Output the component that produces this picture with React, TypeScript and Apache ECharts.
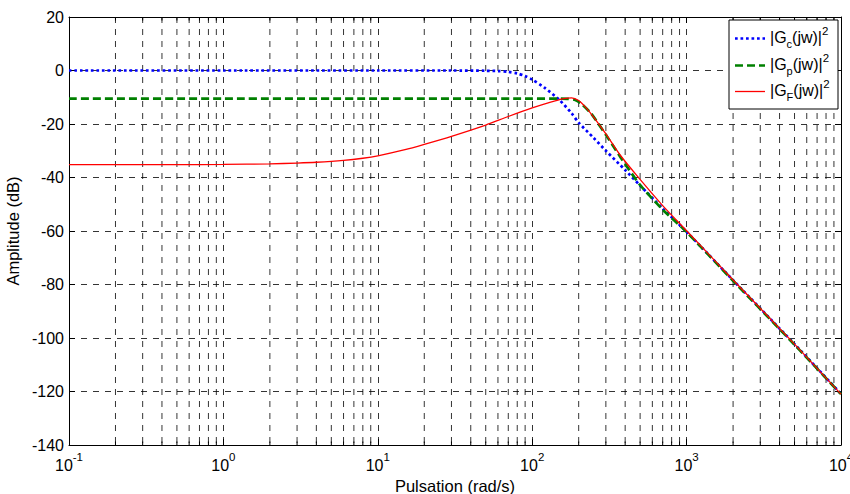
import React, { useEffect, useRef } from 'react';
import * as echarts from 'echarts';

const FONT = "'Liberation Sans', Arial, Helvetica, sans-serif";

// axis ranges
const X_MIN = 0.1;
const X_MAX = 10000;
const Y_MIN = -140;
const Y_MAX = 20;
const Y_STEP = 20;

// minor (2..9) positions of the logarithmic x axis
const X_MINOR = [
  0.2, 0.3, 0.4, 0.5, 0.6, 0.7, 0.8, 0.9,
  2, 3, 4, 5, 6, 7, 8, 9,
  20, 30, 40, 50, 60, 70, 80, 90,
  200, 300, 400, 500, 600, 700, 800, 900,
  2000, 3000, 4000, 5000, 6000, 7000, 8000, 9000,
];

// |Gc(jw)|^2  (blue, dotted)
const W_C = [0.1, 1, 10, 30, 50, 60, 70, 80, 90, 100, 120, 150, 180, 200, 250, 300, 400, 500, 700, 1000, 2000, 5000, 10000];
const DB_C = [0, 0, 0, 0, -0.1, -0.2, -0.5, -1.1, -2.1, -3.4, -6.4, -11, -16, -19.5, -25.2, -30, -37.2, -43, -51.6, -60.3, -78.4, -102.3, -120.9];

// |Gp(jw)|^2  (green, dashed)
const W_P = [0.1, 1, 10, 100, 130, 150, 170, 190, 210, 240, 275, 300, 350, 400, 500, 700, 1000, 2000, 5000, 10000];
const DB_P = [-10.5, -10.5, -10.5, -10.5, -10.5, -10.5, -10.6, -11.0, -12.6, -16.0, -20.8, -24, -30, -35, -42.8, -52, -60.4, -78.6, -102.5, -121];

// |GF(jw)|^2  (red, solid)
const W_F = [0.1, 0.5, 1, 2, 3, 4, 6, 8, 10, 15, 20, 30, 50, 70, 100, 130, 160, 180, 200, 220, 250, 300, 370, 475, 700, 1000, 2000, 5000, 10000];
const DB_F = [-35.2, -35.2, -35.1, -34.9, -34.6, -34.3, -33.6, -32.8, -31.9, -29.6, -27.6, -24.6, -20.4, -17.2, -14, -11.9, -10.5, -10.2, -11.2, -13.5, -17.4, -23.7, -31.5, -39.2, -50.5, -59.9, -78.3, -102.3, -121];

const toPairs = (xs: number[], ys: number[]) => xs.map((x, i) => [x, ys[i]]);

export default function App() {
  const ref = useRef<HTMLDivElement>(null);

  useEffect(() => {
    if (!ref.current) return;
    const chart = echarts.init(ref.current, undefined, { renderer: 'svg' });

    const gridColor = '#000';
    const gridDash = [6, 6];
    const axisLine = { show: true, onZero: false, lineStyle: { color: '#000', width: 1 } };
    const tick = { show: true, inside: true, length: 6, lineStyle: { color: '#000', width: 1 } };

    const legendText = (sub: string) => `|G{s|${sub}}(jw)|{p|2}`;
    const legendTextEl = (sub: string, y: number) => ({
      type: 'text',
      x: 770,
      y,
      z: 102,
      style: {
        text: legendText(sub),
        fontFamily: FONT,
        fontSize: 16,
        lineHeight: 24,
        fill: '#000',
        verticalAlign: 'middle',
        align: 'left',
        rich: {
          s: { fontSize: 11, lineHeight: 11, verticalAlign: 'bottom', fontFamily: FONT, fill: '#000' },
          p: { fontSize: 11.5, lineHeight: 14, verticalAlign: 'top', fontFamily: FONT, fill: '#000' },
        },
      },
    });

    const option: any = {
      animation: false,
      backgroundColor: '#fff',
      grid: { left: 69, right: 9, top: 17, bottom: 49, containLabel: false, outerBoundsMode: 'none' },
      xAxis: [
        {
          type: 'log',
          logBase: 10,
          min: X_MIN,
          max: X_MAX,
          position: 'bottom',
          name: 'Pulsation (rad/s)',
          nameLocation: 'middle',
          nameGap: 28,
          nameTextStyle: { fontFamily: FONT, fontSize: 16.5, color: '#000' },
          axisLine,
          axisTick: tick,
          axisLabel: {
            show: true,
            margin: 6,
            showMinLabel: true,
            showMaxLabel: true,
            hideOverlap: false,
            color: '#000',
            formatter: (v: number) => `{b|10}{s|${Math.round(Math.log10(v))}}`,
            rich: {
              b: { fontFamily: FONT, fontSize: 16, lineHeight: 28, color: '#000' },
              s: { fontFamily: FONT, fontSize: 11.5, lineHeight: 12, verticalAlign: 'top', color: '#000' },
            },
          },
          splitLine: { show: true, lineStyle: { color: gridColor, width: 0.8, type: gridDash } },
          minorTick: { show: false },
        },
        {
          type: 'log',
          logBase: 10,
          min: X_MIN,
          max: X_MAX,
          position: 'top',
          axisLine,
          axisTick: tick,
          axisLabel: { show: false },
          splitLine: { show: false },
        },
      ],
      yAxis: [
        {
          type: 'value',
          min: Y_MIN,
          max: Y_MAX,
          interval: Y_STEP,
          position: 'left',
          name: 'Amplitude (dB)',
          nameLocation: 'middle',
          nameGap: 41,
          nameTextStyle: { fontFamily: FONT, fontSize: 16.5, color: '#000' },
          axisLine,
          axisTick: tick,
          axisLabel: { show: true, margin: 5, fontFamily: FONT, fontSize: 16, color: '#000', showMinLabel: true, showMaxLabel: true },
          splitLine: { show: true, lineStyle: { color: gridColor, width: 0.8, type: gridDash } },
        },
        {
          type: 'value',
          min: Y_MIN,
          max: Y_MAX,
          interval: Y_STEP,
          position: 'right',
          axisLine,
          axisTick: tick,
          axisLabel: { show: false },
          splitLine: { show: false },
        },
      ],
      series: [
        {
          type: 'custom',
          name: 'minor-grid',
          silent: true,
          z: 1,
          xAxisIndex: 0,
          yAxisIndex: 0,
          data: X_MINOR.map((v) => [v, Y_MIN]),
          encode: { x: 0, y: 1 },
          renderItem: (_params: any, api: any) => {
            const xv = api.value(0);
            const top = api.coord([xv, Y_MAX]);
            const bot = api.coord([xv, Y_MIN]);
            return {
              type: 'group',
              children: [
                {
                  type: 'line',
                  shape: { x1: top[0], y1: top[1], x2: bot[0], y2: bot[1] },
                  style: { stroke: gridColor, lineWidth: 0.8, lineDash: gridDash },
                },
                {
                  type: 'line',
                  shape: { x1: bot[0], y1: bot[1], x2: bot[0], y2: bot[1] - 3.5 },
                  style: { stroke: '#000', lineWidth: 1 },
                },
                {
                  type: 'line',
                  shape: { x1: top[0], y1: top[1], x2: top[0], y2: top[1] + 3.5 },
                  style: { stroke: '#000', lineWidth: 1 },
                },
              ],
            };
          },
        },
        {
          type: 'line',
          name: 'Gc',
          data: toPairs(W_C, DB_C),
          symbol: 'none',
          showSymbol: false,
          smooth: 0.25,
          z: 5,
          lineStyle: { color: '#0000ff', width: 2.7, type: [2.7, 2.8], cap: 'butt' },
        },
        {
          type: 'line',
          name: 'Gp',
          data: toPairs(W_P, DB_P),
          symbol: 'none',
          showSymbol: false,
          smooth: 0.25,
          z: 6,
          lineStyle: { color: '#008000', width: 2.7, type: [8, 4], cap: 'butt' },
        },
        {
          type: 'line',
          name: 'GF',
          data: toPairs(W_F, DB_F),
          symbol: 'none',
          showSymbol: false,
          smooth: 0.25,
          z: 7,
          lineStyle: { color: '#ff0000', width: 1.3 },
        },
      ],
      graphic: [
        {
          type: 'rect',
          z: 100,
          shape: { x: 729, y: 20, width: 109, height: 89 },
          style: { fill: '#fff', stroke: '#000', lineWidth: 1 },
        },
        {
          type: 'line',
          z: 101,
          shape: { x1: 735, y1: 38.5, x2: 765, y2: 38.5 },
          style: { stroke: '#0000ff', lineWidth: 2.7, lineDash: [2.7, 2.8] },
        },
        {
          type: 'line',
          z: 101,
          shape: { x1: 735, y1: 65.5, x2: 765, y2: 65.5 },
          style: { stroke: '#008000', lineWidth: 2.7, lineDash: [8, 4] },
        },
        {
          type: 'line',
          z: 101,
          shape: { x1: 735, y1: 91.5, x2: 765, y2: 91.5 },
          style: { stroke: '#ff0000', lineWidth: 1.3 },
        },
        legendTextEl('c', 37),
        legendTextEl('p', 64),
        legendTextEl('F', 90),
      ],
    };

    chart.setOption(option);
    return () => {
      chart.dispose();
    };
  }, []);

  return (
    <div
      ref={ref}
      style={{ position: 'absolute', left: 0, top: 0, width: 850, height: 494, background: '#fff' }}
    />
  );
}
